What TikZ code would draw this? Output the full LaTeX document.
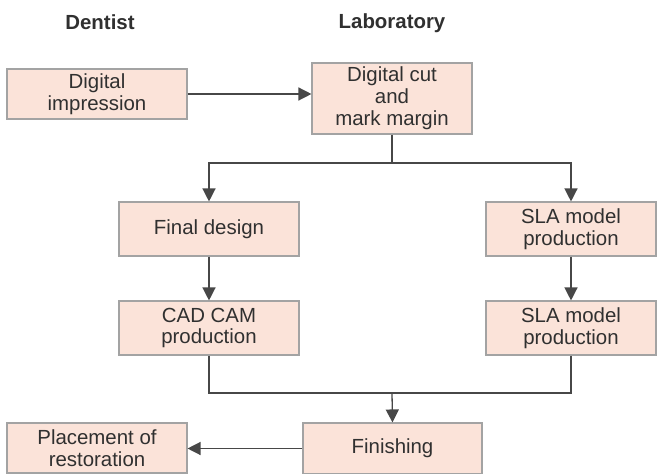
\documentclass[tikz,border=0pt]{standalone}
\usepackage{fontspec}
\setmainfont{Liberation Sans}
\usetikzlibrary{arrows.meta}
\definecolor{boxfill}{HTML}{FBE3D9}
\definecolor{boxline}{HTML}{A3A3A3}
\definecolor{conn}{HTML}{474747}
\definecolor{txt}{HTML}{303030}
\tikzset{
  stepbox/.style={draw=boxline, line width=1.1bp, fill=boxfill, inner sep=0pt,
    align=center, text=txt, font=\fontsize{20.5}{22}\selectfont},
  header/.style={anchor=base, text=txt, font=\fontsize{20.5}{22}\selectfont\bfseries},
  conn/.style={draw=conn, line width=1.3bp},
  arr/.style={conn, -{Triangle[length=13bp,width=13bp]}}
}
\begin{document}
\begin{tikzpicture}[x=1bp,y=-1bp]
\useasboundingbox (0,0) rectangle (657,474);
\fill[white] (0,0) rectangle (657,474);
\node[header] (hd) at (100,30) {Dentist};
\node[header] (hl) at (392,29) {Laboratory};
\node[stepbox, minimum width=180bp, minimum height=50bp] (imp) at (97,94) {Digital\\impression};
\node[stepbox, minimum width=160bp, minimum height=71bp] (cut) at (392,98.5) {Digital cut\\and\\mark margin};
\node[stepbox, minimum width=180bp, minimum height=54bp] (fd) at (209,229) {Final design};
\node[stepbox, minimum width=170bp, minimum height=54bp] (sla1) at (571,229) {SLA model\\production};
\node[stepbox, minimum width=180bp, minimum height=54bp] (cad) at (209,328) {CAD CAM\\production};
\node[stepbox, minimum width=170bp, minimum height=54bp] (sla2) at (571,328) {SLA model\\production};
\node[stepbox, minimum width=179bp, minimum height=51bp] (fin) at (392.5,448.5) {Finishing};
\node[stepbox, minimum width=180bp, minimum height=50bp] (pl) at (97,448) {Placement of\\restoration};
\coordinate (j1) at (392,163);
\coordinate (j2) at (392,393);
\draw[arr] (imp.east) -- (imp.east -| cut.west);
\draw[conn] (cut.south) -- (j1);
\draw[arr] (j1) -| (fd.north);
\draw[arr] (j1) -| (sla1.north);
\draw[arr] (fd.south) -- (cad.north);
\draw[arr] (sla1.south) -- (sla2.north);
\draw[conn] (cad.south) |- (j2);
\draw[conn] (sla2.south) |- (j2);
\draw[arr] (j2) -- (fin.north);
\draw[arr] (fin.west) -- (fin.west -| pl.east);
\end{tikzpicture}
\end{document}
